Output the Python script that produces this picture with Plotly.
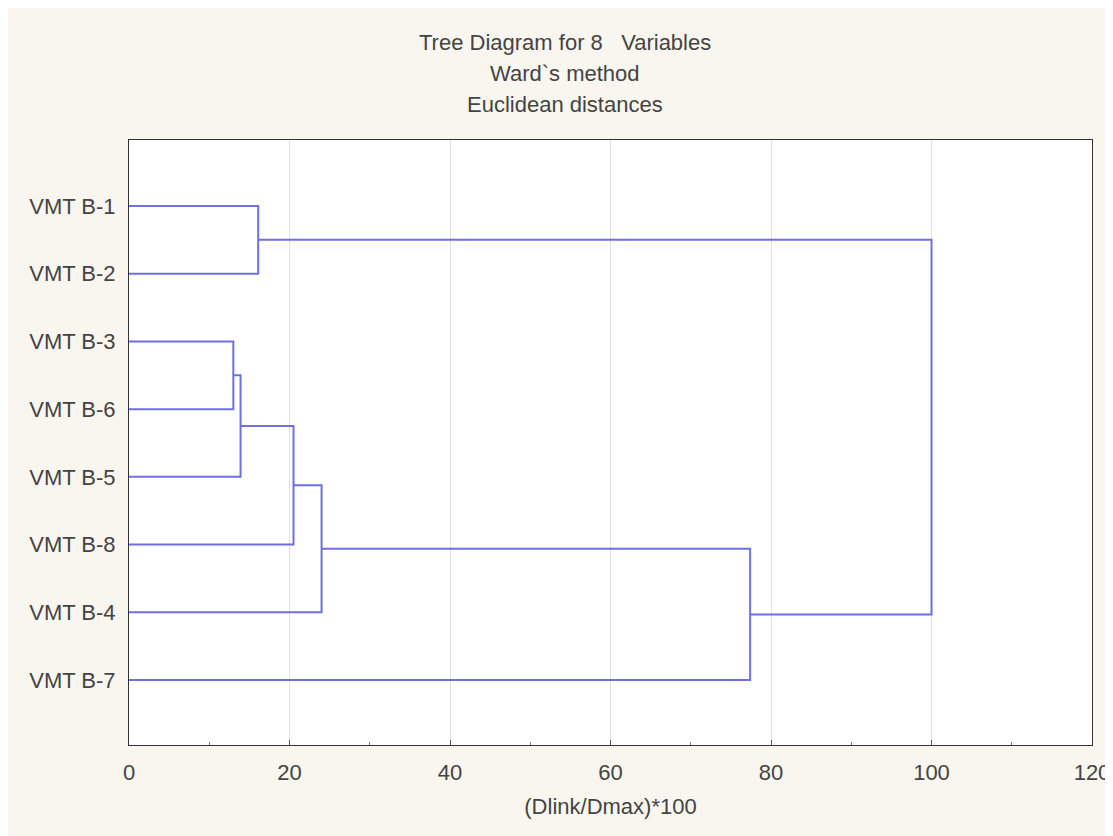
import plotly.graph_objects as go

# Leaf order (top to bottom) and labels
leaf_labels = ["VMT B-1", "VMT B-2", "VMT B-3", "VMT B-6", "VMT B-5", "VMT B-8", "VMT B-4", "VMT B-7"]
# merges: (left cluster, right cluster, linkage distance); leaves 0..7, new clusters 8..
merge_left = [2, 8, 0, 9, 11, 12, 10]
merge_right = [3, 4, 1, 5, 6, 7, 13]
merge_height = [13.0, 13.9, 16.1, 20.5, 24.0, 77.4, 100.0]
x_ticks = [0, 20, 40, 60, 80, 100, 120]

line_color = "#6f6fe0"

# compute positions
pos = {i: i + 1 for i in range(len(leaf_labels))}
hgt = {i: 0.0 for i in range(len(leaf_labels))}
xs, ys = [], []
nid = len(leaf_labels)
for a, b, h in zip(merge_left, merge_right, merge_height):
    xs += [hgt[a], h, h, hgt[b], None]
    ys += [pos[a], pos[a], pos[b], pos[b], None]
    pos[nid] = (pos[a] + pos[b]) / 2
    hgt[nid] = h
    nid += 1

fig = go.Figure()
fig.add_trace(go.Scatter(x=xs, y=ys, mode="lines",
                         line=dict(color=line_color, width=2),
                         hoverinfo="skip", showlegend=False))

font = "Liberation Sans, Arial, sans-serif"
FS = 22
fig.update_layout(
    width=1105, height=828,
    margin=dict(l=121, r=21, t=132, b=91),
    paper_bgcolor="#f8f6ee",
    plot_bgcolor="#ffffff",
    font=dict(family=font, size=FS, color="#444444"),
    showlegend=False,
    xaxis=dict(range=[0, 120], tickvals=x_ticks, ticktext=[str(v) for v in x_ticks],
               automargin=False, ticklabeloverflow="allow",
               showgrid=True, gridcolor="#e2e2e2", gridwidth=1,
               zeroline=False, showline=True, linecolor="#333333", linewidth=1, mirror=True,
               ticks="inside", ticklen=5, tickcolor="#555555",
               minor=dict(tickvals=[10, 30, 50, 70, 90, 110], ticks="inside", ticklen=3, tickcolor="#777777"),
               tickfont=dict(size=FS, color="#444444"), ticklabelstandoff=8,
               title=dict(text="(Dlink/Dmax)*100", font=dict(size=FS, color="#444444"), standoff=14)),
    yaxis=dict(range=[8.96, 0.025], tickvals=list(range(1, len(leaf_labels) + 1)), ticktext=leaf_labels,
               automargin=False,
               showgrid=False, zeroline=False, showline=True, linecolor="#333333", linewidth=1, mirror=True,
               ticks="", tickfont=dict(size=FS, color="#444444"), ticklabelstandoff=8),
)
titles = ["Tree Diagram for 8   Variables", "Ward`s method", "Euclidean distances"]
title_y = [42, 74, 105]
for t, ty in zip(titles, title_y):
    fig.add_annotation(text=t, xref="paper", yref="paper", x=(565 - 129) / 963, y=1 + (140 - ty) / 605,
                       showarrow=False, font=dict(size=FS, color="#444444", family=font), yanchor="middle")

fig.write_html("out.html")
